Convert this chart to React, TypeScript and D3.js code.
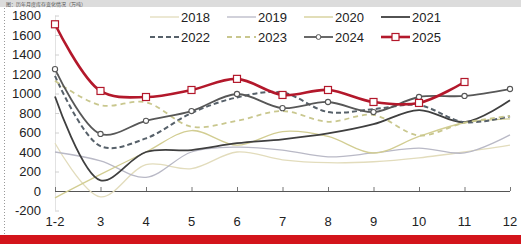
import { useEffect, useRef } from 'react';
import * as d3 from 'd3';

const months = ['1-2', '3', '4', '5', '6', '7', '8', '9', '10', '11', '12'];
const yTicks = [-200, 0, 200, 400, 600, 800, 1000, 1200, 1400, 1600, 1800];

const v2018 = [490, -60, 270, 230, 400, 320, 290, 300, 340, 400, 470];
const v2019 = [400, 310, 140, 400, 450, 420, 350, 390, 440, 390, 575];
const v2020 = [-70, 170, 400, 620, 470, 610, 560, 390, 560, 700, 740];
const v2021 = [970, 110, 400, 420, 490, 530, 590, 685, 830, 706, 930];
const v2022 = [1180, 460, 540, 800, 960, 1010, 810, 840, 880, 706, 767];
const v2023 = [1130, 880, 910, 660, 720, 820, 710, 780, 570, 700, 770];
const v2024 = [1250, 585, 720, 820, 995, 850, 913, 810, 964, 975, 1046];
const v2025 = [1710, 1026, 964, 1036, 1150, 985, 1036, 913, 903, 1118];

interface Series {
  name: string;
  values: number[];
  color: string;
  width: number;
  dash?: string;
  marker?: 'circle' | 'square';
}

const series: Series[] = [
  { name: '2018', values: v2018, color: '#e2dcbc', width: 1.3 },
  { name: '2019', values: v2019, color: '#b9b9c6', width: 1.3 },
  { name: '2020', values: v2020, color: '#d2cd92', width: 1.3 },
  { name: '2021', values: v2021, color: '#3f3f3f', width: 1.8 },
  { name: '2022', values: v2022, color: '#57616a', width: 2, dash: '5,3' },
  { name: '2023', values: v2023, color: '#c9c78e', width: 1.8, dash: '5,4' },
  { name: '2024', values: v2024, color: '#575757', width: 1.8, marker: 'circle' },
  { name: '2025', values: v2025, color: '#b3182b', width: 2.6, marker: 'square' },
];

export default function App() {
  const svgRef = useRef<SVGSVGElement>(null);

  useEffect(() => {
    if (!svgRef.current) return;
    const width = 521;
    const height = 244;
    const svg = d3.select(svgRef.current);
    svg.selectAll('*').remove();
    svg.attr('width', width).attr('height', height);

    const font = 'Liberation Sans, Arial, sans-serif';

    // background, title strip, left dotted border, red footer bar
    svg.append('rect').attr('width', width).attr('height', height).attr('fill', '#ffffff');
    svg.append('rect').attr('x', 0).attr('y', 0).attr('width', width).attr('height', 7).attr('fill', '#dcdcdc');
    svg.append('text')
      .attr('x', 6).attr('y', 6)
      .style('font-family', 'Noto Sans CJK SC, sans-serif')
      .style('font-size', '5px')
      .attr('fill', '#555')
      .text('图：历年月度库存变化情况（万吨）');
    svg.append('line')
      .attr('x1', 4.5).attr('x2', 4.5).attr('y1', 8).attr('y2', 234)
      .attr('stroke', '#999').attr('stroke-dasharray', '1,2');
    svg.append('rect').attr('x', 0).attr('y', 235).attr('width', width).attr('height', 9).attr('fill', '#d3141b');

    const x = d3.scalePoint<string>().domain(months).range([55, 510]);
    const y = d3.scaleLinear().domain([-200, 1800]).range([210.5, 15.5]);

    // y axis
    svg.append('line')
      .attr('x1', 55.5).attr('x2', 55.5).attr('y1', y(1800)).attr('y2', y(-200))
      .attr('stroke', '#e2e2e2');
    const yAxis = svg.append('g');
    yAxis.selectAll('line')
      .data(yTicks)
      .enter()
      .append('line')
      .attr('x1', 55).attr('x2', 59)
      .attr('y1', d => y(d) + 0.5).attr('y2', d => y(d) + 0.5)
      .attr('stroke', '#d0d0d0');
    yAxis.selectAll('text')
      .data(yTicks)
      .enter()
      .append('text')
      .attr('x', 41)
      .attr('y', d => y(d))
      .attr('dy', '0.36em')
      .attr('text-anchor', 'end')
      .style('font-family', font)
      .style('font-size', '13px')
      .attr('fill', '#222')
      .text(d => d);

    // x axis on zero line
    svg.append('line')
      .attr('x1', 55).attr('x2', 510).attr('y1', y(0) + 0.5).attr('y2', y(0) + 0.5)
      .attr('stroke', '#555').attr('stroke-width', 1);
    const xAxis = svg.append('g');
    xAxis.selectAll('line')
      .data(months)
      .enter()
      .append('line')
      .attr('x1', d => (x(d) || 0) + 0.5).attr('x2', d => (x(d) || 0) + 0.5)
      .attr('y1', y(0) - 4).attr('y2', y(0))
      .attr('stroke', '#777');
    xAxis.selectAll('text')
      .data(months)
      .enter()
      .append('text')
      .attr('x', d => x(d) || 0)
      .attr('y', 226)
      .attr('text-anchor', 'middle')
      .style('font-family', font)
      .style('font-size', '13px')
      .attr('fill', '#222')
      .text(d => d);

    // lines
    const line = d3.line<number>()
      .x((_, i) => x(months[i]) || 0)
      .y(d => y(d))
      .curve(d3.curveCatmullRom.alpha(0.5));

    series.forEach(s => {
      svg.append('path')
        .datum(s.values)
        .attr('d', line)
        .attr('fill', 'none')
        .attr('stroke', s.color)
        .attr('stroke-width', s.width)
        .attr('stroke-dasharray', s.dash || null)
        .attr('stroke-linejoin', 'round');
      if (s.marker === 'circle') {
        svg.append('g').selectAll('circle')
          .data(s.values)
          .enter()
          .append('circle')
          .attr('cx', (_, i) => x(months[i]) || 0)
          .attr('cy', d => y(d))
          .attr('r', 2.6)
          .attr('fill', '#fff')
          .attr('stroke', s.color)
          .attr('stroke-width', 1.1);
      }
      if (s.marker === 'square') {
        svg.append('g').selectAll('rect')
          .data(s.values)
          .enter()
          .append('rect')
          .attr('x', (_, i) => (x(months[i]) || 0) - 3.5)
          .attr('y', d => y(d) - 3.5)
          .attr('width', 7)
          .attr('height', 7)
          .attr('fill', '#fff')
          .attr('stroke', s.color)
          .attr('stroke-width', 1.2);
      }
    });

    // legend, two rows of four
    const legend = svg.append('g');
    series.forEach((s, i) => {
      const lx = 150 + (i % 4) * 77;
      const ly = i < 4 ? 17 : 37;
      const g = legend.append('g');
      g.append('line')
        .attr('x1', lx).attr('x2', lx + 29).attr('y1', ly).attr('y2', ly)
        .attr('stroke', s.color)
        .attr('stroke-width', s.width)
        .attr('stroke-dasharray', s.dash || null);
      if (s.marker === 'circle') {
        g.append('circle').attr('cx', lx + 14.5).attr('cy', ly).attr('r', 2.4)
          .attr('fill', '#fff').attr('stroke', s.color).attr('stroke-width', 1);
      }
      if (s.marker === 'square') {
        g.append('rect').attr('x', lx + 11).attr('y', ly - 3.5).attr('width', 7).attr('height', 7)
          .attr('fill', '#fff').attr('stroke', s.color).attr('stroke-width', 1.2);
      }
      g.append('text')
        .attr('x', lx + 31)
        .attr('y', ly)
        .attr('dy', '0.36em')
        .style('font-family', font)
        .style('font-size', '13px')
        .attr('fill', '#222')
        .text(s.name);
    });
  }, []);

  return (
    <div style={{ position: 'absolute', left: 0, top: 0 }}>
      <svg ref={svgRef} style={{ display: 'block' }} />
    </div>
  );
}
